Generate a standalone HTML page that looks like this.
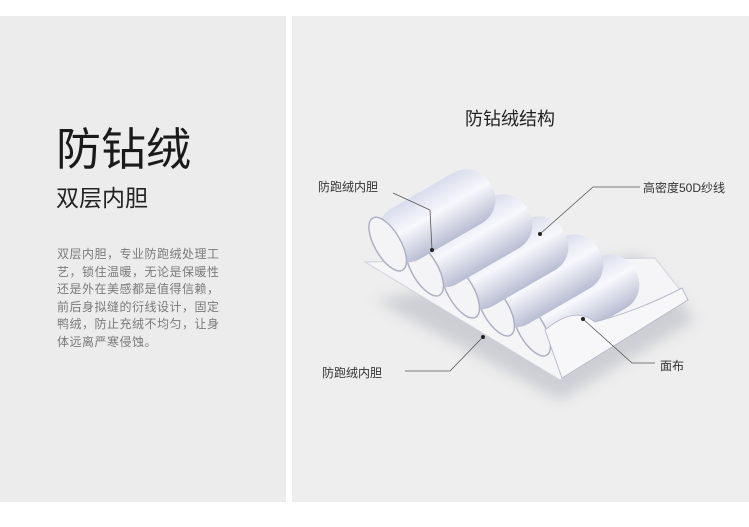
<!DOCTYPE html>
<html><head><meta charset="utf-8"><style>
body{margin:0;width:749px;height:527px;background:#fff;position:relative;overflow:hidden;font-family:"Liberation Sans","Noto Sans CJK SC",sans-serif}
.p{position:absolute;background:#ececec}
.t{position:absolute;white-space:nowrap;color:#222}
</style></head><body>
<div class="p" style="left:0;top:16px;width:286px;height:486px"></div>
<div class="p" style="left:292px;top:16px;width:457px;height:486px;background:#eeeeee"></div>
<div class="t" style="left:56px;top:124px;font-size:45px;line-height:52px;color:#1a1a1a">防钻绒</div>
<div class="t" style="left:56px;top:184px;font-size:23px;line-height:28px;color:#222">双层内胆</div>
<div class="t" style="left:57px;top:246px;font-size:12px;line-height:17.5px;color:#7a7a7a;white-space:normal;width:170px;letter-spacing:0.5px">双层内胆，专业防跑绒处理工艺，锁住温暖，无论是保暖性还是外在美感都是值得信赖，前后身拟缝的衍线设计，固定鸭绒，防止充绒不均匀，让身体远离严寒侵蚀。</div>
<div class="t" style="left:465px;top:107px;font-size:18px;line-height:24px;color:#222">防钻绒结构</div>
<div class="t" style="left:318px;top:178px;font-size:12px;color:#333">防跑绒内胆</div>
<div class="t" style="left:643px;top:179px;font-size:12px;color:#333">高密度50D纱线</div>
<div class="t" style="left:660px;top:357px;font-size:12px;color:#333">面布</div>
<div class="t" style="left:322px;top:364px;font-size:12px;color:#333">防跑绒内胆</div>
<svg style="position:absolute;left:0;top:0" width="749" height="527">
<defs>
<linearGradient id="g" x1="0" y1="0" x2="0" y2="1"><stop offset="0" stop-color="#d9dcec"/><stop offset=".45" stop-color="#f7f8fd"/><stop offset="1" stop-color="#b9bdd2"/></linearGradient>
<filter id="s"><feGaussianBlur stdDeviation="7"/></filter>
</defs>
<polygon points="375,300 560,400 695,320 640,255" fill="#b8b9c4" filter="url(#s)" opacity=".6"/>
<polygon points="365,262 560,380 688,300 655,258" fill="#f5f5f8" stroke="#d0d2dc"/>
<g>
<g transform="translate(527,333) rotate(-30)"><rect x="0" y="-30" width="125" height="58" rx="27" fill="url(#g)"/><ellipse cx="6" cy="-1" rx="13" ry="30" fill="#f4f4f6" stroke="#aeb1c4" stroke-width="1.5"/></g>
<g transform="translate(491,313) rotate(-30)"><rect x="0" y="-30" width="125" height="58" rx="27" fill="url(#g)"/><ellipse cx="6" cy="-1" rx="13" ry="30" fill="#f4f4f6" stroke="#aeb1c4" stroke-width="1.5"/></g>
<g transform="translate(456,295) rotate(-30)"><rect x="0" y="-30" width="125" height="58" rx="27" fill="url(#g)"/><ellipse cx="6" cy="-1" rx="13" ry="30" fill="#f4f4f6" stroke="#aeb1c4" stroke-width="1.5"/></g>
<g transform="translate(420,273) rotate(-30)"><rect x="0" y="-30" width="125" height="58" rx="27" fill="url(#g)"/><ellipse cx="6" cy="-1" rx="13" ry="30" fill="#f4f4f6" stroke="#aeb1c4" stroke-width="1.5"/></g>
<g transform="translate(383,248) rotate(-30)"><rect x="0" y="-30" width="125" height="58" rx="27" fill="url(#g)"/><ellipse cx="6" cy="-1" rx="13" ry="30" fill="#f4f4f6" stroke="#aeb1c4" stroke-width="1.5"/></g>
</g>
<path d="M545,330 Q575,305 595,322 Q640,310 682,288 L688,300 L562,378 Z" fill="#f7f7f9" stroke="#b8bbcb"/>
<g stroke="#555" stroke-width="0.8" fill="none">
<polyline points="393,193 430,210 432,250"/>
<polyline points="640,187 593,187 540,234"/>
<polyline points="655,363 632,363 583,319"/>
<polyline points="405,371 450,371 483,337"/>
</g>
<g fill="#222"><circle cx="432" cy="250" r="2"/><circle cx="540" cy="234" r="2"/><circle cx="583" cy="319" r="2"/><circle cx="483" cy="337" r="2"/></g>
</svg>
</body></html>
